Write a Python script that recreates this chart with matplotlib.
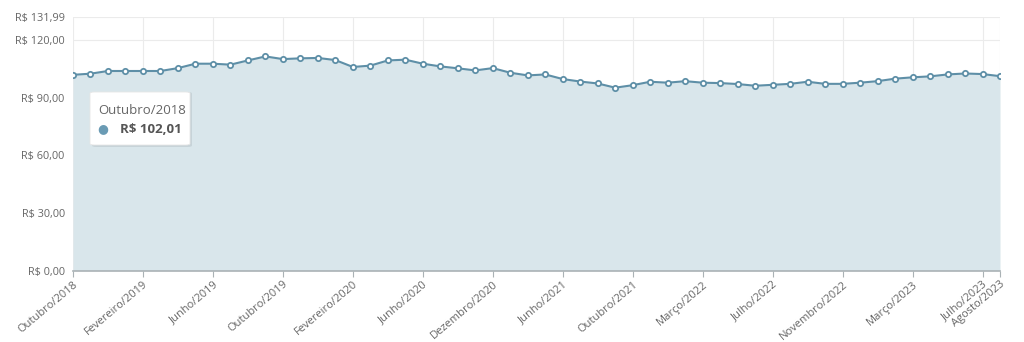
import matplotlib.pyplot as plt
from matplotlib.patches import FancyBboxPatch
from matplotlib.ticker import FuncFormatter

plt.rcParams['font.family'] = ['Open Sans', 'DejaVu Sans']

# monthly price series (gaps in 2020-2022 where no quote was collected)
months = ['Outubro/2018', 'Novembro/2018', 'Dezembro/2018', 'Janeiro/2019',
          'Fevereiro/2019', 'Março/2019', 'Abril/2019', 'Maio/2019',
          'Junho/2019', 'Julho/2019', 'Agosto/2019', 'Setembro/2019',
          'Outubro/2019', 'Novembro/2019', 'Dezembro/2019', 'Janeiro/2020',
          'Fevereiro/2020', 'Março/2020', 'Abril/2020', 'Maio/2020',
          'Junho/2020', 'Agosto/2020', 'Setembro/2020', 'Novembro/2020',
          'Dezembro/2020', 'Fevereiro/2021', 'Março/2021', 'Abril/2021',
          'Junho/2021', 'Julho/2021', 'Agosto/2021', 'Setembro/2021',
          'Outubro/2021', 'Novembro/2021', 'Dezembro/2021', 'Fevereiro/2022',
          'Março/2022', 'Abril/2022', 'Maio/2022', 'Junho/2022',
          'Julho/2022', 'Agosto/2022', 'Setembro/2022', 'Outubro/2022',
          'Novembro/2022', 'Dezembro/2022', 'Janeiro/2023', 'Fevereiro/2023',
          'Março/2023', 'Abril/2023', 'Maio/2023', 'Junho/2023',
          'Julho/2023', 'Agosto/2023']
prices = [102.01, 102.6, 104.0, 104.0, 104.0, 104.0, 105.5, 107.8, 107.8, 107.3,
          109.5, 111.6, 110.2, 110.6, 110.8, 109.7, 106.1, 106.8, 109.5, 109.9,
          107.8, 106.4, 105.4, 104.3, 105.5, 103.1, 101.7, 102.2, 99.8, 98.5,
          97.5, 95.3, 96.6, 98.4, 97.9, 98.7, 97.9, 97.7, 97.2, 96.3,
          96.8, 97.3, 98.4, 97.3, 97.3, 97.9, 98.7, 100.0, 100.7, 101.2,
          102.2, 102.7, 102.4, 101.3]
tick_idx = [0, 4, 8, 12, 16, 20, 24, 28, 32, 36, 40, 44, 48, 52, 53]
y_ticks = [0, 30, 60, 90, 120, 131.99]

line_c = '#5e8fa7'
fill_c = '#d9e6eb'
grid_c = '#ebebeb'
text_c = '#666666'

fig = plt.figure(figsize=(10.24, 3.42), dpi=100)
ax = fig.add_axes([73 / 1024, 1 - 270.5 / 342, 927 / 1024, 253.2 / 342])

x = list(range(len(prices)))
ax.fill_between(x, prices, 0, color=fill_c, lw=0, zorder=1)
ax.plot(x, prices, color=line_c, lw=1.5, zorder=3,
        marker='o', ms=3.8, mfc='white', mec=line_c, mew=1.3)

ax.set_xlim(0, len(prices) - 1)
ax.set_ylim(0, 131.99)
ax.set_yticks(y_ticks)
ax.yaxis.set_major_formatter(FuncFormatter(
    lambda v, p: 'R$ ' + f'{v:.2f}'.replace('.', ',')))
ax.set_xticks(tick_idx)
ax.set_xticklabels([months[i] for i in tick_idx], rotation=40, ha='right',
                   rotation_mode='anchor')

ax.grid(True, color=grid_c, lw=0.8, zorder=0)
ax.set_axisbelow(True)
for s in ['top', 'right', 'left']:
    ax.spines[s].set_visible(False)
ax.spines['bottom'].set_color('#aab2b5')
ax.spines['bottom'].set_linewidth(1.2)
ax.tick_params(axis='y', length=0, pad=6, labelsize=7.8, labelcolor=text_c)
ax.tick_params(axis='x', length=4, color='#aab2b5', pad=2, labelsize=8.0,
               labelcolor=text_c)

# hover tooltip for the first point
px = lambda v: v / 1024
py = lambda v: 1 - v / 342
shadow = FancyBboxPatch((px(92), py(147)), px(100), 55 / 342,
                        boxstyle='round,pad=0,rounding_size=0.004',
                        transform=fig.transFigure, fc='#000000', alpha=0.08,
                        ec='none', zorder=9)
box = FancyBboxPatch((px(90), py(145)), px(100), 53 / 342,
                     boxstyle='round,pad=0,rounding_size=0.004',
                     transform=fig.transFigure, fc='white', ec='#e6e6e6',
                     lw=0.6, zorder=10)
fig.patches.extend([shadow, box])
fig.text(px(98), py(110), months[0], fontsize=9.5, color='#666666',
         va='center', ha='left', zorder=11)
fig.text(px(103), py(129), '●', fontsize=9, color='#6a9bb4',
         va='center', ha='center', family='DejaVu Sans', zorder=11)
fig.text(px(120), py(129), 'R$ ' + f'{prices[0]:.2f}'.replace('.', ','),
         fontsize=9.5, color='#555555', weight='bold', va='center',
         ha='left', zorder=11)

fig.savefig('out.png', dpi=100)
